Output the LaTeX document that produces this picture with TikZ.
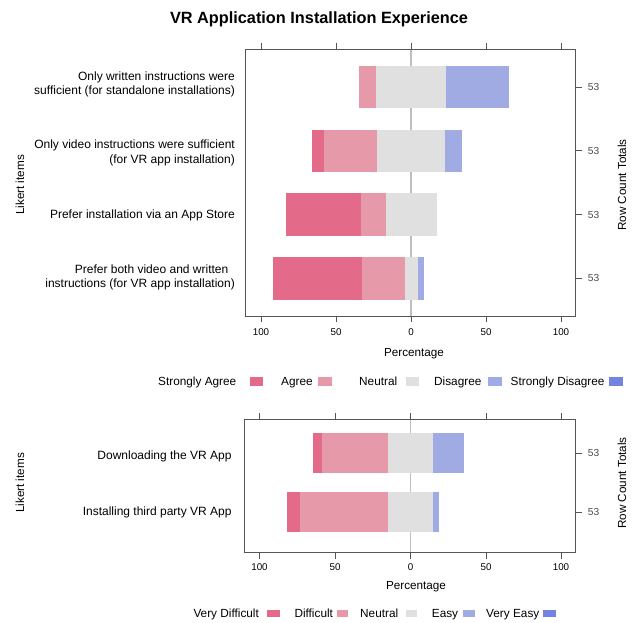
\documentclass[tikz,border=0pt]{standalone}
\usepackage{fontspec}
\setmainfont{Liberation Sans}
\definecolor{csa}{HTML}{E46A8A}
\definecolor{cag}{HTML}{E699A8}
\definecolor{cne}{HTML}{E0E0E0}
\definecolor{cdi}{HTML}{A0ABE3}
\definecolor{csd}{HTML}{7283E0}
\definecolor{frm}{HTML}{555555}
\definecolor{zline}{HTML}{BEBEBE}
\newcommand\barseg[5]{\fill[#1] (#2,#3-#5) rectangle (#4,#3+#5);}
\begin{document}
\begin{tikzpicture}[x=1pt,y=-1pt,
  lab/.style={font=\fontsize{12}{14}\selectfont, anchor=base east, inner sep=0pt},
  tlab/.style={font=\fontsize{9.8}{11}\selectfont, inner sep=0pt},
  axt/.style={font=\fontsize{11.7}{13}\selectfont, inner sep=0pt},
  cnt/.style={font=\fontsize{10.2}{11}\selectfont, text=frm!90!black, inner sep=0pt},
  leg/.style={font=\fontsize{11.8}{13}\selectfont, anchor=base west, inner sep=0pt},
  frame/.style={draw=frm, line width=0.9pt},
  tk/.style={draw=frm, line width=0.9pt},
  zl/.style={draw=zline, line width=1.4pt}]
\useasboundingbox (0,0) rectangle (636,622);
\fill[white] (0,0) rectangle (636,622);

\node[font=\bfseries\fontsize{16.3}{19}\selectfont, inner sep=0pt, anchor=base] (title) at (319,23) {VR Application Installation Experience};

% ---------------- top panel ----------------
\draw[zl] (411,49) -- (411,316);
\begin{scope}[shift={(411,0)}, x=1.5pt]
  % row 1
  \barseg{cag}{-34.9}{87}{-23.3}{21.3}
  \barseg{cne}{-23.3}{87}{23.3}{21.3}
  \barseg{cdi}{23.3}{87}{65.5}{21.3}
  % row 2
  \barseg{csa}{-66.2}{150.8}{-58.2}{21.3}
  \barseg{cag}{-58.2}{150.8}{-22.5}{21.3}
  \barseg{cne}{-22.5}{150.8}{22.5}{21.3}
  \barseg{cdi}{22.5}{150.8}{34.2}{21.3}
  % row 3
  \barseg{csa}{-83.3}{214.6}{-33.5}{21.3}
  \barseg{cag}{-33.5}{214.6}{-16.8}{21.3}
  \barseg{cne}{-16.8}{214.6}{17.2}{21.3}
  % row 4
  \barseg{csa}{-91.8}{278.4}{-32.7}{21.3}
  \barseg{cag}{-32.7}{278.4}{-4.3}{21.3}
  \barseg{cne}{-4.3}{278.4}{4.5}{21.3}
  \barseg{cdi}{4.5}{278.4}{8.9}{21.3}
\end{scope}
\draw[frame] (245.5,49) rectangle (575.5,316);
\foreach \t/\l in {261/100,336/50,411/0,486/50,561/100}{
  \draw[tk] (\t,43) -- (\t,49);
  \draw[tk] (\t,316) -- (\t,322);
  \node[tlab] at (\t,332.5) {\l};
}
\foreach \r in {87,150.8,214.6,278.4}{
  \draw[tk] (575.5,\r) -- (581.5,\r);
  \node[cnt] at (593.5,\r) {53};
}
\node[axt, anchor=base] (pct1) at (414,356.5) {Percentage};
\node[axt, rotate=90] (lik1) at (20,185) {Likert items};
\node[axt, rotate=90] (rct1) at (622,185) {Row Count Totals};

\node[lab] (r1a) at (235,80.3) {Only written instructions were};
\node[lab] (r1b) at (235,94.3) {sufficient (for standalone installations)};
\node[lab] (r2a) at (235,148.8) {Only video instructions were sufficient};
\node[lab] (r2b) at (235,163.3) {(for VR app installation)};
\node[lab] (r3) at (235,218.8) {Prefer installation via an App Store};
\node[lab] (r4a) at (228.5,273.3) {Prefer both video and written};
\node[lab] (r4b) at (235,287.8) {instructions (for VR app installation)};

% legend 1
\node[leg] (l1) at (158,385.2) {Strongly Agree};
\fill[csa] (250,377) rectangle (262.7,385.5);
\node[leg] (l2) at (281,385.2) {Agree};
\fill[cag] (318,377) rectangle (331.7,385.5);
\node[leg] (l3) at (359,385.2) {Neutral};
\fill[cne] (406,377) rectangle (418.7,385.5);
\node[leg] (l4) at (434,385.2) {Disagree};
\fill[cdi] (488,377) rectangle (501.7,385.5);
\node[leg] (l5) at (510.5,385.2) {Strongly Disagree};
\fill[csd] (609,377) rectangle (622.7,385.5);

% ---------------- bottom panel ----------------
\draw[zl] (410.5,419) -- (410.5,552.5);
\begin{scope}[shift={(410.5,0)}, x=1.5pt]
  \barseg{csa}{-65.2}{453}{-58.8}{20}
  \barseg{cag}{-58.8}{453}{-14.85}{20}
  \barseg{cne}{-14.85}{453}{14.85}{20}
  \barseg{cdi}{14.85}{453}{35.9}{20}
  \barseg{csa}{-82.1}{512}{-73.9}{20}
  \barseg{cag}{-73.9}{512}{-14.85}{20}
  \barseg{cne}{-14.85}{512}{14.85}{20}
  \barseg{cdi}{14.85}{512}{18.8}{20}
\end{scope}
\draw[frame] (244.5,419) rectangle (575.5,552.5);
\foreach \t/\l in {259.5/100,335/50,410.5/0,486/50,561/100}{
  \draw[tk] (\t,413) -- (\t,419);
  \draw[tk] (\t,552.5) -- (\t,558.5);
  \node[tlab] at (\t,567) {\l};
}
\foreach \r in {453,512}{
  \draw[tk] (575.5,\r) -- (581.5,\r);
  \node[cnt] at (593.5,\r) {53};
}
\node[axt, anchor=base] (pct2) at (416,589.5) {Percentage};
\node[axt, rotate=90] (lik2) at (20,483) {Likert items};
\node[axt, rotate=90] (rct2) at (622,483) {Row Count Totals};

\node[lab] (b1) at (231.7,459.3) {Downloading the VR App};
\node[lab] (b2) at (231.7,515.3) {Installing third party VR App};

% legend 2
\node[leg] (m1) at (193.3,617.7) {Very Difficult};
\fill[csa] (267.3,610.2) rectangle (280,617.3);
\node[leg] (m2) at (294.3,617.7) {Difficult};
\fill[cag] (336.7,610.2) rectangle (348.3,617.3);
\node[leg] (m3) at (360,617.7) {Neutral};
\fill[cne] (406,610.2) rectangle (417.3,617.3);
\node[leg] (m4) at (431.7,617.7) {Easy};
\fill[cdi] (462.7,610.2) rectangle (475,617.3);
\node[leg] (m5) at (486,617.7) {Very Easy};
\fill[csd] (542.7,610.2) rectangle (556,617.3);
\end{tikzpicture}
\end{document}
